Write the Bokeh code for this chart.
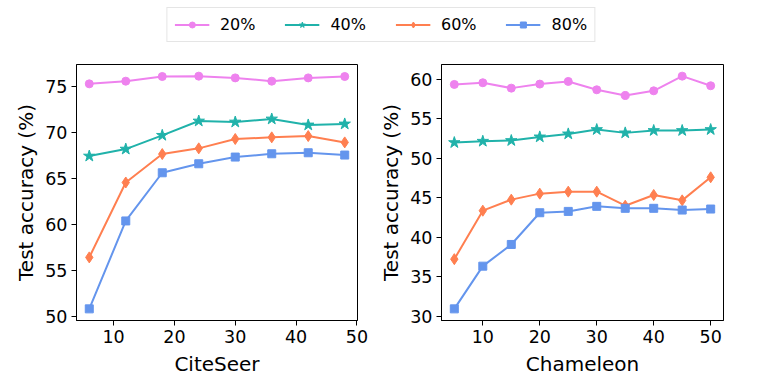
from bokeh.plotting import figure
from bokeh.models import Legend, LegendItem, FixedTicker, Range1d, ColumnDataSource
from bokeh.layouts import column, row
from bokeh.embed import file_html
from bokeh.resources import INLINE

FONT = "DejaVu Sans"

series_labels = ["20%", "40%", "60%", "80%"]
colors = ["#EE82EE", "#20B2AA", "#FF7F50", "#6495ED"]
markers = ["circle", "star", "diamond", "square"]
marker_sizes = [8, 12, 11, 8]

cite_x = [6, 12, 18, 24, 30, 36, 42, 48]
cite_20 = [75.33, 75.62, 76.13, 76.17, 75.98, 75.62, 75.98, 76.13]
cite_40 = [67.46, 68.22, 69.72, 71.28, 71.17, 71.50, 70.85, 70.96]
cite_60 = [56.42, 64.58, 67.68, 68.30, 69.32, 69.50, 69.64, 68.95]
cite_80 = [50.81, 60.39, 65.64, 66.62, 67.35, 67.71, 67.82, 67.57]

cham_x = [5, 10, 15, 20, 25, 30, 35, 40, 45, 50]
cham_20 = [59.37, 59.58, 58.90, 59.41, 59.75, 58.69, 57.97, 58.56, 60.42, 59.20]
cham_40 = [52.00, 52.17, 52.26, 52.72, 53.10, 53.65, 53.23, 53.53, 53.53, 53.65]
cham_60 = [37.23, 43.37, 44.77, 45.53, 45.78, 45.78, 44.00, 45.36, 44.68, 47.60]
cham_80 = [30.93, 36.34, 39.09, 43.11, 43.28, 43.92, 43.67, 43.67, 43.45, 43.58]

cite_xticks = [10, 20, 30, 40, 50]
cite_yticks = [50, 55, 60, 65, 70, 75]
cham_xticks = [10, 20, 30, 40, 50]
cham_yticks = [30, 35, 40, 45, 50, 55, 60]


def padded(vals, frac=0.05):
    lo, hi = min(vals), max(vals)
    m = (hi - lo) * frac
    return lo - m, hi + m


def make_panel(xs, ys_list, xticks, yticks, xlabel, mbl, fw, mbr):
    x0, x1 = padded(xs)
    allys = [v for ys in ys_list for v in ys]
    y0, y1 = padded(allys)
    p = figure(width=mbl + fw + mbr, height=16 + 256 + 53,
               output_backend="svg", toolbar_location=None,
               x_range=Range1d(x0, x1), y_range=Range1d(y0, y1),
               min_border_left=mbl, min_border_right=mbr,
               min_border_top=16, min_border_bottom=53)
    p.frame_width = fw
    p.frame_height = 256
    p.xgrid.visible = False
    p.ygrid.visible = False
    p.outline_line_color = "black"
    p.outline_line_width = 1
    p.background_fill_color = "white"
    p.border_fill_color = "white"
    for ys, c, mk, ms in zip(ys_list, colors, markers, marker_sizes):
        src = ColumnDataSource(dict(x=xs, y=ys))
        p.line("x", "y", source=src, line_color=c, line_width=2)
        p.scatter("x", "y", source=src, marker=mk, size=ms,
                  fill_color=c, line_color=c)
    p.xaxis.ticker = FixedTicker(ticks=xticks)
    p.yaxis.ticker = FixedTicker(ticks=yticks)
    for ax in (p.xaxis[0], p.yaxis[0]):
        ax.axis_line_color = "black"
        ax.major_tick_line_color = "black"
        ax.major_tick_out = 5
        ax.major_tick_in = 0
        ax.minor_tick_out = 0
        ax.minor_tick_in = 0
        ax.major_label_text_font = FONT
        ax.major_label_text_font_size = "17.5px"
        ax.major_label_text_color = "black"
        ax.axis_label_text_font = FONT
        ax.axis_label_text_font_size = "20px"
        ax.axis_label_text_font_style = "normal"
        ax.axis_label_text_color = "black"
        ax.major_label_standoff = 4
        ax.axis_label_standoff = 6
    p.xaxis.axis_label = xlabel
    p.yaxis.axis_label = "Test accuracy (%)"
    p.yaxis.axis_label_standoff = 4
    return p


p1 = make_panel(cite_x, [cite_20, cite_40, cite_60, cite_80],
                cite_xticks, cite_yticks, "CiteSeer", 76, 281, 16)
p2 = make_panel(cham_x, [cham_20, cham_40, cham_60, cham_80],
                cham_xticks, cham_yticks, "Chameleon", 68, 282, 20)

# legend figure: renderers hold the real data but sit outside its view range
lf = figure(width=761, height=48, output_backend="svg", toolbar_location=None,
            min_border=0, x_range=Range1d(-2, -1), y_range=Range1d(-2, -1))
lf.axis.visible = False
lf.grid.visible = False
lf.outline_line_color = None
items = []
for lab, c, mk, ms, ys in zip(series_labels, colors, markers, marker_sizes,
                              [cite_20, cite_40, cite_60, cite_80]):
    src = ColumnDataSource(dict(x=cite_x, y=ys))
    r1 = lf.line("x", "y", source=src, line_color=c, line_width=2)
    r2 = lf.scatter("x", "y", source=src, marker=mk, size=ms,
                    fill_color=c, line_color=c)
    items.append(LegendItem(label=lab, renderers=[r1, r2]))
leg = Legend(items=items, orientation="horizontal", location="top_center",
             margin=7, padding=7, spacing=29, glyph_width=35, glyph_height=15,
             label_height=15, label_standoff=11, label_text_font=FONT,
             label_text_font_size="16px", label_text_color="black",
             border_line_color="#cccccc", border_line_width=1,
             background_fill_color="white", background_fill_alpha=0.8)
lf.add_layout(leg, "center")

layout = column(lf, row(p1, p2))

open("out.html", "w").write(file_html(layout, INLINE))
